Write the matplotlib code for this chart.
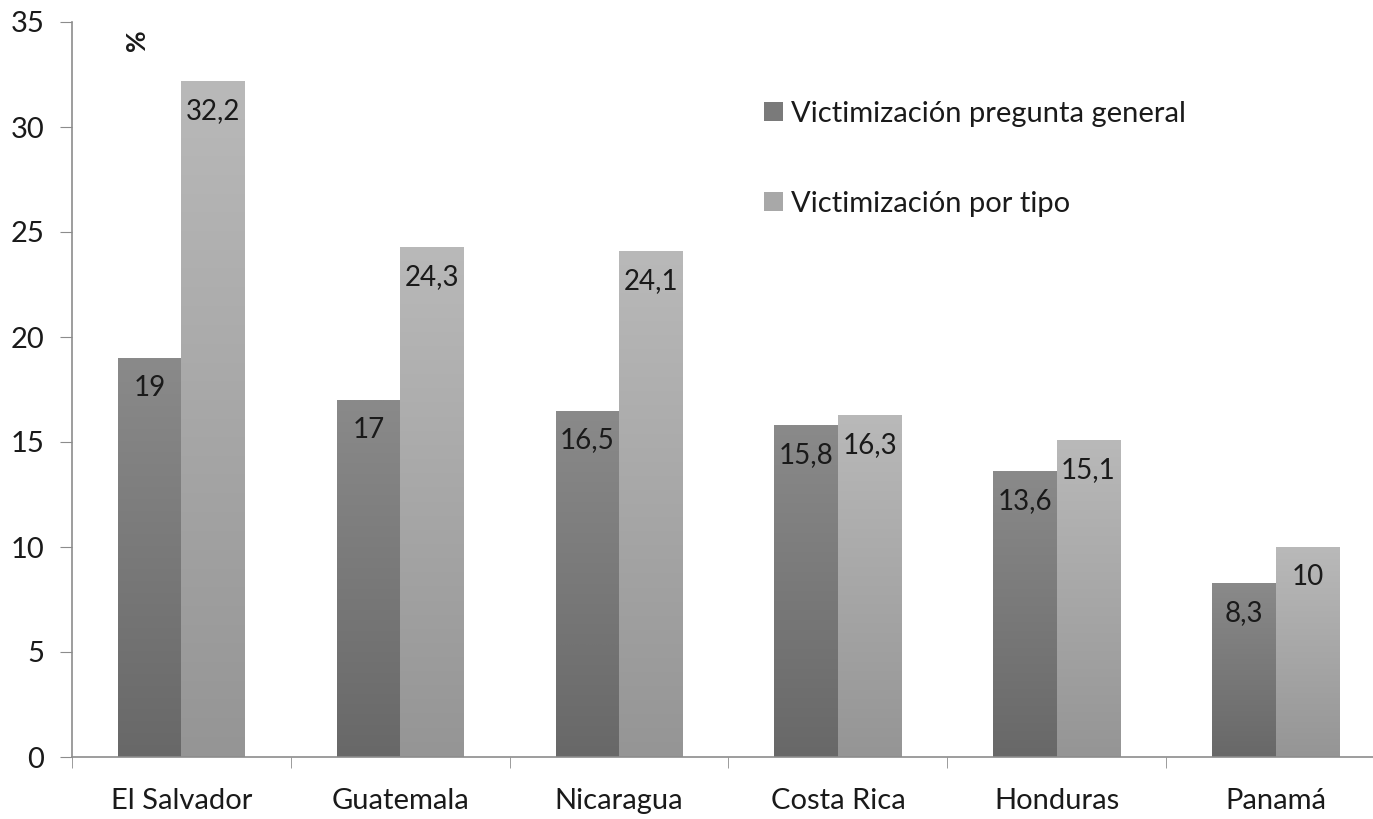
import numpy as np
import matplotlib
matplotlib.use("Agg")
import matplotlib.pyplot as plt
from matplotlib.patches import Patch

countries = ["El Salvador", "Guatemala", "Nicaragua", "Costa Rica", "Honduras", "Panamá"]
general = [19, 17, 16.5, 15.8, 13.6, 8.3]
por_tipo = [32.2, 24.3, 24.1, 16.3, 15.1, 10]
series_names = ["Victimización pregunta general", "Victimización por tipo"]

plt.rcParams["font.family"] = ["Lato", "DejaVu Sans"]
text_col = "#1a1a1a"
axis_col = "#8c8c8c"

W, H = 1373, 819
fig = plt.figure(figsize=(W / 100, H / 100), dpi=100)
ax = fig.add_axes([72 / W, 62 / H, (1385 - 72) / W, 735 / H])

x = np.arange(len(countries))
bw = 0.29


def grad_bars(xs, vals, top_col, bot_col):
    bars = ax.bar(xs, vals, bw, color="none", edgecolor="none")
    top = np.array(matplotlib.colors.to_rgb(top_col))
    bot = np.array(matplotlib.colors.to_rgb(bot_col))
    t = np.linspace(0, 1, 256)[:, None]
    img = (bot + (top - bot) * t)[:, None, :]
    for b in bars:
        x0, y0 = b.get_x(), b.get_y()
        im = ax.imshow(img, extent=[x0, x0 + b.get_width(), y0, y0 + b.get_height()],
                       origin="lower", aspect="auto", zorder=2)
        im.set_clip_path(b)
    return bars


b1 = grad_bars(x - bw / 2, general, "#8a8a8a", "#686868")
b2 = grad_bars(x + bw / 2, por_tipo, "#b9b9b9", "#959595")

for bars, vals in ((b1, general), (b2, por_tipo)):
    for b, v in zip(bars, vals):
        lab = ("%g" % v).replace(".", ",")
        ax.annotate(lab, (b.get_x() + b.get_width() / 2, v), xytext=(0, -21.5),
                    textcoords="offset points", ha="center", va="center",
                    fontsize=20, color=text_col, zorder=5)

ax.set_xlim(-0.5, 5.5)
ax.set_ylim(0, 35)
ax.set_yticks(np.arange(0, 36, 5))
ax.set_xticks(x)
ax.set_xticklabels(countries)
ax.set_xticks(np.arange(-0.5, 6, 1), minor=True)
ax.tick_params(axis="x", which="major", length=0, pad=22, labelsize=21, labelcolor=text_col)
ax.tick_params(axis="x", which="minor", length=8, color=axis_col, direction="out")
ax.tick_params(axis="y", length=9, color=axis_col, pad=11, labelsize=21, labelcolor=text_col)

for s in ("top", "right"):
    ax.spines[s].set_visible(False)
for s in ("left", "bottom"):
    ax.spines[s].set_color(axis_col)
    ax.spines[s].set_linewidth(1.2)

fig.text(137 / W, 1 - 40 / H, "%", rotation=90, ha="center", va="center",
         fontsize=19, fontweight="bold", color=text_col)

handles = [Patch(facecolor="#7a7a7a"), Patch(facecolor="#a8a8a8")]
ax.legend(handles, series_names, loc="upper left", bbox_to_anchor=(752 / W, 1 - 89 / H),
          bbox_transform=fig.transFigure, frameon=False, fontsize=21,
          handlelength=0.65, handleheight=0.65, handletextpad=0.3, labelspacing=2.2,
          labelcolor=text_col, borderaxespad=0)

fig.savefig("out.png", dpi=100)
